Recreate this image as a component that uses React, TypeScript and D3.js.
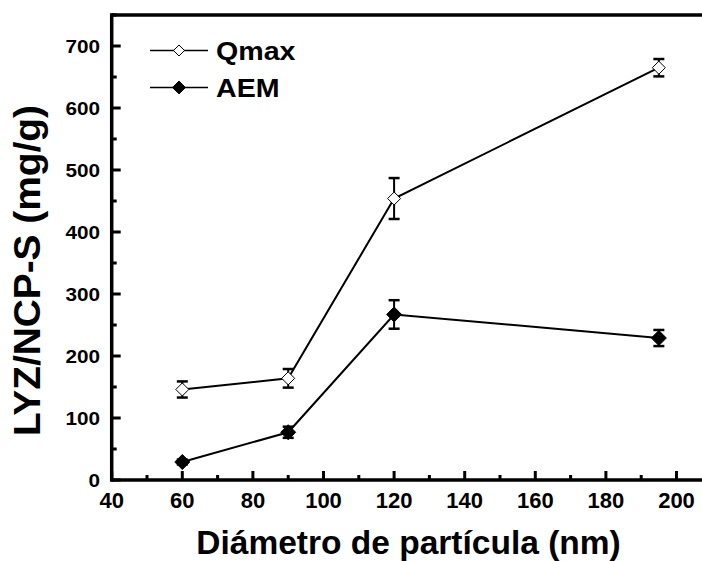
import React, { useEffect } from "react";
import * as d3 from "d3";

const diameters = [60, 90, 120, 195];
const qmaxValues = [146, 164, 454, 665];
const qmaxErrors = [13, 15, 33, 14];
const aemValues = [29, 77, 267, 229];
const aemErrors = [4, 9, 23, 13];
const xTicks = [40, 60, 80, 100, 120, 140, 160, 180, 200];
const yTicks = [0, 100, 200, 300, 400, 500, 600, 700];
const seriesNames = ["Qmax", "AEM"];

const W = 702;
const H = 561;
const FONT = "'Liberation Sans', Arial, Helvetica, sans-serif";

const x = d3.scaleLinear().domain([40, 210]).range([111.7, 711.8]);
const y = d3.scaleLinear().domain([0, 750]).range([480, 15]);

const diamond = (cx: number, cy: number, r: number) =>
  `M${cx},${cy - r}L${cx + r},${cy}L${cx},${cy + r}L${cx - r},${cy}Z`;

function Series({ values, errors, open }: { values: number[]; errors: number[]; open: boolean }) {
  const line = d3
    .line<number>()
    .x((_, i) => x(diameters[i]))
    .y((v) => y(v));
  const r = open ? 6.5 : 7.5;
  return (
    <g>
      <path d={line(values) || ""} fill="none" stroke="#000" strokeWidth={2} />
      {values.map((v, i) => {
        const cx = x(diameters[i]);
        const top = y(v + errors[i]);
        const bot = y(v - errors[i]);
        return (
          <g key={i}>
            <line x1={cx} x2={cx} y1={top} y2={bot} stroke="#000" strokeWidth={2} />
            <line x1={cx - 5.5} x2={cx + 5.5} y1={top} y2={top} stroke="#000" strokeWidth={2.5} />
            <line x1={cx - 5.5} x2={cx + 5.5} y1={bot} y2={bot} stroke="#000" strokeWidth={2.5} />
            <path
              d={diamond(cx, y(v), r)}
              fill={open ? "#fff" : "#000"}
              stroke="#000"
              strokeWidth={1}
            />
          </g>
        );
      })}
    </g>
  );
}

export default function App() {
  useEffect(() => {
    document.body.style.margin = "0";
    document.body.style.overflow = "hidden";
    document.documentElement.style.overflow = "hidden";
  }, []);
  const xMinor = d3.range(40, 211, 10).filter((t) => !xTicks.includes(t));
  const yMinor = d3.range(50, 751, 100);
  const x0 = x(40);
  const y0 = y(0);
  const yTop = y(750);
  const xRight = x(210);
  return (
    <svg
      width={W}
      height={H}
      viewBox={`0 0 ${W} ${H}`}
      style={{ position: "absolute", left: 0, top: 0, display: "block", background: "#fff" }}
      fontFamily={FONT}
      fontWeight="bold"
    >
      <rect x={0} y={0} width={W} height={H} fill="#fff" />
      {/* data */}
      <Series values={qmaxValues} errors={qmaxErrors} open={true} />
      <Series values={aemValues} errors={aemErrors} open={false} />

      {/* frame */}
      <line x1={x0} x2={xRight} y1={yTop} y2={yTop} stroke="#000" strokeWidth={3.5} />
      <line x1={x0} x2={xRight} y1={y0} y2={y0} stroke="#000" strokeWidth={3.5} />
      <line x1={x0} x2={x0} y1={yTop - 1.75} y2={y0 + 1.75} stroke="#000" strokeWidth={3.5} />

      {/* x ticks */}
      {xTicks.map((t) => (
        <g key={"xt" + t}>
          <line x1={x(t)} x2={x(t)} y1={y0} y2={y0 - 9} stroke="#000" strokeWidth={3} />
          <text x={x(t)} y={508} fontSize={22} textAnchor="middle" fill="#000">
            {t}
          </text>
        </g>
      ))}
      {xMinor.map((t) => (
        <line key={"xm" + t} x1={x(t)} x2={x(t)} y1={y0} y2={y0 - 5} stroke="#000" strokeWidth={3} />
      ))}

      {/* y ticks */}
      {yTicks.map((t) => (
        <g key={"yt" + t}>
          <line x1={x0} x2={x0 + 9} y1={y(t)} y2={y(t)} stroke="#000" strokeWidth={3} />
          <text
            transform={`translate(100,${y(t) + 6.5}) scale(1.15,1)`}
            fontSize={18}
            textAnchor="end"
            fill="#000"
          >
            {t}
          </text>
        </g>
      ))}
      {yMinor.map((t) => (
        <line key={"ym" + t} x1={x0} x2={x0 + 5} y1={y(t)} y2={y(t)} stroke="#000" strokeWidth={3} />
      ))}

      {/* legend */}
      {seriesNames.map((name, i) => {
        const ly = i === 0 ? 50.5 : 87.5;
        return (
          <g key={name}>
            <line x1={150} x2={208} y1={ly} y2={ly} stroke="#000" strokeWidth={1.5} />
            <path
              d={diamond(179, ly, i === 0 ? 5.5 : 6.5)}
              fill={i === 0 ? "#fff" : "#000"}
              stroke="#000"
              strokeWidth={1}
            />
            <text
              transform={`translate(216,${ly + 9}) scale(1.1,1)`}
              fontSize={26}
              fill="#000"
            >
              {name}
            </text>
          </g>
        );
      })}

      {/* axis titles */}
      <text x={408.5} y={554} fontSize={33.5} textAnchor="middle" fill="#000">
        Diámetro de partícula (nm)
      </text>
      <text
        transform={`translate(39.5,270.5) rotate(-90) scale(1.05,1)`}
        fontSize={37}
        textAnchor="middle"
        fill="#000"
      >
        LYZ/NCP-S (mg/g)
      </text>
    </svg>
  );
}
